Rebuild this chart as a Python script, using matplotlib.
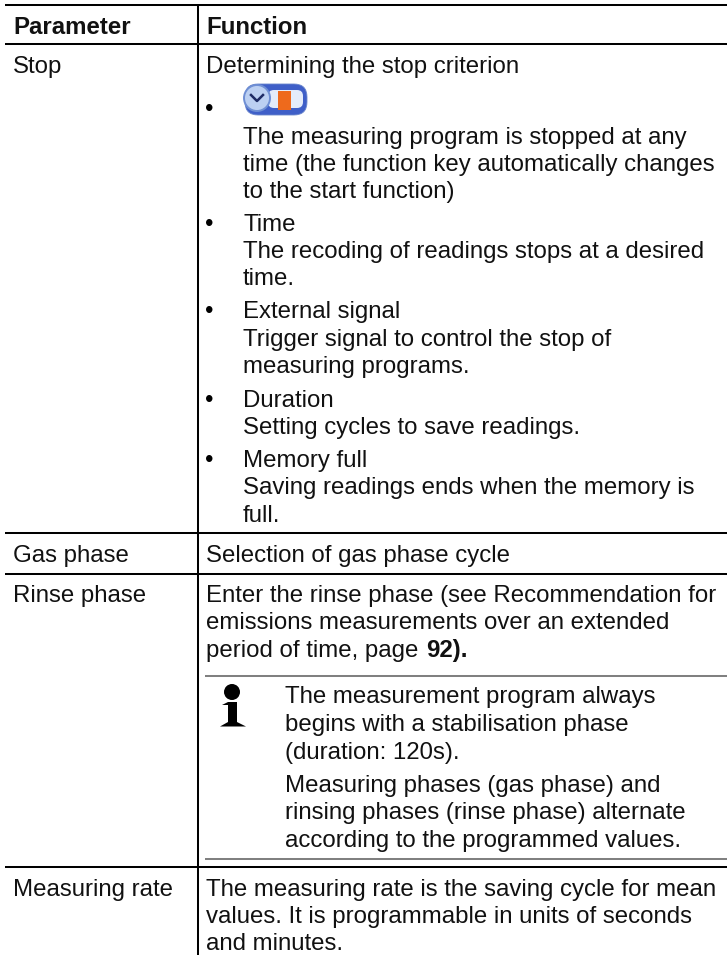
import matplotlib
matplotlib.use("Agg")
import matplotlib.pyplot as plt
from matplotlib.patches import FancyBboxPatch, Circle, Rectangle, Polygon

W, H = 727, 955
plt.rcParams['font.family'] = ['Liberation Sans', 'DejaVu Sans']
FS = 17.3

headers = ["Parameter", "Function"]
params = [("Stop", 73), ("Gas phase", 562), ("Rinse phase", 602), ("Measuring rate", 896)]
func_lines = [
    (206, 73, "Determining the stop criterion"),
    (243, 144, "The measuring program is stopped at any"),
    (243, 171, "time (the function key automatically changes"),
    (243, 198, "to the start function)"),
    (243, 231, "Time"),
    (243, 258, "The recoding of readings stops at a desired"),
    (243, 285, "time."),
    (243, 318, "External signal"),
    (243, 346, "Trigger signal to control the stop of"),
    (243, 373, "measuring programs."),
    (243, 407, "Duration"),
    (243, 434, "Setting cycles to save readings."),
    (243, 467, "Memory full"),
    (243, 494, "Saving readings ends when the memory is"),
    (243, 522, "full."),
    (206, 562, "Selection of gas phase cycle"),
    (206, 602, "Enter the rinse phase (see Recommendation for"),
    (206, 629, "emissions measurements over an extended"),
    (206, 657, "period of time, page"),
    (285, 703, "The measurement program always"),
    (285, 731, "begins with a stabilisation phase"),
    (285, 759, "(duration: 120s)."),
    (285, 792, "Measuring phases (gas phase) and"),
    (285, 819, "rinsing phases (rinse phase) alternate"),
    (285, 847, "according to the programmed values."),
    (206, 896, "The measuring rate is the saving cycle for mean"),
    (206, 923, "values. It is programmable in units of seconds"),
    (206, 950, "and minutes."),
]
bullets_y = [116, 231, 318, 407, 467]
black_rules = [5, 44, 533, 574, 867]
grey_rules = [676, 859]

fig = plt.figure(figsize=(W / 100, H / 100), dpi=100)
ax = fig.add_axes([0, 0, 1, 1])
ax.set_xlim(0, W)
ax.set_ylim(H, 0)
ax.axis('off')

for y in black_rules:
    ax.plot([5, W], [y, y], color='black', lw=1.45, solid_capstyle='butt')
ax.plot([198, 198], [5, H], color='black', lw=1.45, solid_capstyle='butt')
for y in grey_rules:
    ax.plot([205, W], [y, y], color='#808080', lw=1.45, solid_capstyle='butt')

ax.text(13, 34, headers[0], fontsize=FS, fontweight='bold', va='baseline', color='#111111')
ax.text(206, 34, headers[1], fontsize=FS, fontweight='bold', va='baseline', color='#111111')
for s, y in params:
    ax.text(13, y, s, fontsize=FS, va='baseline', color='#111111')
for x, y, s in func_lines:
    ax.text(x, y, s, fontsize=FS, va='baseline', color='#111111')
ax.text(426, 657, "92).", fontsize=FS, fontweight='bold', va='baseline', color='#111111')
for y in bullets_y:
    ax.text(209.5, y, "•", fontsize=FS, ha='center', va='baseline')

# function-key icon
ax.add_patch(FancyBboxPatch((245, 84), 62, 31, boxstyle="round,pad=0,rounding_size=13", fc='#3f5fc8', ec='#6a86cc', lw=0.6))
ax.add_patch(FancyBboxPatch((268, 90), 35, 18, boxstyle="round,pad=0,rounding_size=6", fc='#e4ecfa', ec='none'))
ax.add_patch(Rectangle((278, 91), 13, 19, fc='#ee6a1c', ec='none'))
ax.add_patch(Circle((257, 98), 13, fc='#bcd0f2', ec='#6f8fd4', lw=1.4))
ax.plot([251, 257, 263], [95, 101, 95], color='#1f2c66', lw=1.8)

# info symbol
ax.add_patch(Circle((232, 692), 8, fc='black', ec='none'))
ax.add_patch(Rectangle((228, 702), 9, 23, fc='black', ec='none'))
ax.add_patch(Polygon([(222, 705), (228, 702), (228, 705)], fc='black', ec='none'))
ax.add_patch(Polygon([(220, 726.5), (246, 726.5), (237, 722), (228, 722)], fc='black', ec='none'))

fig.savefig("out.png", dpi=100)
